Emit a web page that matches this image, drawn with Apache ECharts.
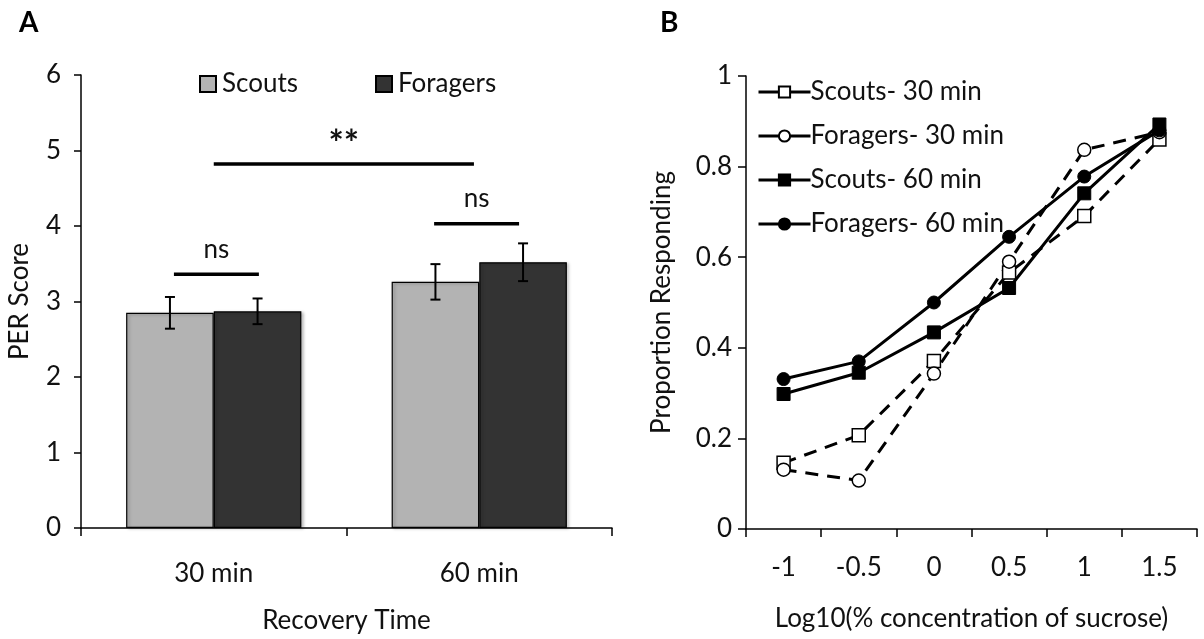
<!DOCTYPE html>
<html>
<head>
<meta charset="utf-8">
<script src="https://cdn.jsdelivr.net/npm/echarts@6/dist/echarts.min.js"></script>
<style>
  html, body { margin: 0; padding: 0; background: #fff; }
  #chart { width: 1204px; height: 639px; }
</style>
</head>
<body>
<div id="chart"></div>
<script>
// ---- Panel A: PER score by recovery time ----
const recoveryTimes = ['30 min', '60 min'];
const scoutsPER = [2.85, 3.26];
const foragersPER = [2.87, 3.52];
const scoutsSE = [0.21, 0.235];
const foragersSE = [0.17, 0.25];
// significance brackets: [from, to, height, label] in category units
const sigBrackets = [
  [-0.15, 0.17, 3.36, 'ns'],
  [0.83, 1.15, 4.03, 'ns'],
  [0.0, 0.98, 4.82, '**']
];

// ---- Panel B: proportion responding vs sucrose concentration ----
const logConc = ['-1', '-0.5', '0', '0.5', '1', '1.5'];
const scouts30 = [0.146, 0.207, 0.371, 0.566, 0.691, 0.86];
const foragers30 = [0.131, 0.107, 0.343, 0.59, 0.837, 0.876];
const scouts60 = [0.298, 0.345, 0.434, 0.532, 0.741, 0.893];
const foragers60 = [0.331, 0.37, 0.50, 0.645, 0.778, 0.88];

const FONT = 'Lato, "Open Sans", sans-serif';
const FS = 26;
const BAR_FRAC = 0.33;
const txt = { fontFamily: FONT, fontSize: FS, color: '#111' };

const chart = echarts.init(document.getElementById('chart'));

function errorItem(offsetFrac) {
  return function (params, api) {
    const x = api.value(0) + offsetFrac;
    const lo = api.coord([x, api.value(1)]);
    const hi = api.coord([x, api.value(2)]);
    const cap = 5;
    const style = { stroke: '#000', lineWidth: 2 };
    return {
      type: 'group',
      children: [
        { type: 'line', shape: { x1: lo[0], y1: lo[1], x2: hi[0], y2: hi[1] }, style },
        { type: 'line', shape: { x1: lo[0] - cap, y1: lo[1], x2: lo[0] + cap, y2: lo[1] }, style },
        { type: 'line', shape: { x1: hi[0] - cap, y1: hi[1], x2: hi[0] + cap, y2: hi[1] }, style }
      ]
    };
  };
}

const dashed = { width: 3, type: [13, 9], color: '#000' };
const solid = { width: 3, type: 'solid', color: '#000' };
const openMark = { color: '#fff', borderColor: '#000', borderWidth: 1.5 };
const fillMark = { color: '#000', borderColor: '#000', borderWidth: 1 };
const axisBlack = { color: '#000', width: 1.5 };
const titleStyle = { fontFamily: FONT, fontSize: 28, fontWeight: 'bold', color: '#000' };

chart.setOption({
  animation: false,
  backgroundColor: '#fff',
  textStyle: { fontFamily: FONT },
  title: [
    { text: 'A', left: 14, top: 4, textStyle: titleStyle },
    { text: 'B', left: 655, top: 4, textStyle: titleStyle }
  ],
  legend: [
    {
      data: ['Scouts'], left: 194, top: 66, icon: 'rect', itemWidth: 16, itemHeight: 16,
      textStyle: Object.assign({}, txt, { padding: [0, 0, 0, 1] })
    },
    {
      data: ['Foragers'], left: 370, top: 66, icon: 'rect', itemWidth: 16, itemHeight: 16,
      textStyle: Object.assign({}, txt, { padding: [0, 0, 0, 1] })
    },
    {
      data: ['Scouts- 30 min', 'Foragers- 30 min', 'Scouts- 60 min', 'Foragers- 60 min'],
      orient: 'vertical', left: 752, top: 74, itemGap: 18, itemWidth: 52, itemHeight: 14,
      lineStyle: { width: 3, type: 'solid' },
      textStyle: Object.assign({}, txt, { padding: [0, 0, 0, -5] })
    }
  ],
  grid: [
    { left: 81, top: 75, width: 531, height: 456 },
    { left: 746, top: 76, width: 451, height: 453 }
  ],
  xAxis: [
    {
      type: 'category', gridIndex: 0, data: recoveryTimes,
      name: 'Recovery Time', nameLocation: 'middle', nameGap: 80, nameTextStyle: txt,
      axisLine: { lineStyle: axisBlack },
      axisTick: { show: true, length: 8, lineStyle: axisBlack },
      axisLabel: Object.assign({ margin: 33 }, txt)
    },
    {
      type: 'category', gridIndex: 1, data: logConc,
      name: 'Log10(% concentration of sucrose)', nameLocation: 'middle', nameGap: 77, nameTextStyle: txt,
      axisLine: { lineStyle: axisBlack },
      axisTick: { show: true, length: 8, lineStyle: axisBlack },
      axisLabel: Object.assign({ margin: 26 }, txt)
    },
    {
      type: 'value', gridIndex: 0, min: -0.5, max: 1.5, show: false
    }
  ],
  yAxis: [
    {
      type: 'value', gridIndex: 0, min: 0, max: 6, interval: 1,
      name: 'PER Score', nameLocation: 'middle', nameGap: 48, nameTextStyle: txt,
      axisLine: { show: true, onZero: false, lineStyle: axisBlack },
      axisTick: { show: true, length: 7, lineStyle: axisBlack },
      axisLabel: Object.assign({ margin: 20 }, txt),
      splitLine: { show: false }
    },
    {
      type: 'value', gridIndex: 1, min: 0, max: 1, interval: 0.2,
      name: 'Proportion Responding', nameLocation: 'middle', nameGap: 71, nameTextStyle: txt,
      axisLine: { show: true, onZero: false, lineStyle: axisBlack },
      axisTick: { show: true, length: 8, lineStyle: axisBlack },
      axisLabel: Object.assign({ margin: 14 }, txt),
      splitLine: { show: false }
    }
  ],
  series: [
    {
      name: 'Scouts', type: 'bar', xAxisIndex: 0, yAxisIndex: 0, data: scoutsPER,
      barWidth: (BAR_FRAC * 100) + '%', barGap: '0%',
      itemStyle: { color: '#b3b3b3', borderColor: '#000', borderWidth: 1.2,
        shadowColor: 'rgba(0,0,0,0.25)', shadowBlur: 3, shadowOffsetX: 2, shadowOffsetY: 1 }
    },
    {
      name: 'Foragers', type: 'bar', xAxisIndex: 0, yAxisIndex: 0, data: foragersPER,
      barWidth: (BAR_FRAC * 100) + '%', barGap: '0%',
      itemStyle: { color: '#333333', borderColor: '#000', borderWidth: 1.2,
        shadowColor: 'rgba(0,0,0,0.25)', shadowBlur: 3, shadowOffsetX: 2, shadowOffsetY: 1 }
    },
    {
      type: 'custom', xAxisIndex: 2, yAxisIndex: 0, z: 5,
      renderItem: errorItem(-BAR_FRAC / 2),
      data: scoutsPER.map((v, i) => [i, v - scoutsSE[i], v + scoutsSE[i]])
    },
    {
      type: 'custom', xAxisIndex: 2, yAxisIndex: 0, z: 5,
      renderItem: errorItem(BAR_FRAC / 2),
      data: foragersPER.map((v, i) => [i, v - foragersSE[i], v + foragersSE[i]])
    },
    {
      type: 'custom', xAxisIndex: 2, yAxisIndex: 0, z: 5,
      data: sigBrackets,
      renderItem: function (params, api) {
        const b = sigBrackets[params.dataIndex];
        const p0 = api.coord([b[0], b[2]]);
        const p1 = api.coord([b[1], b[2]]);
        const bold = b[3] === '**';
        return {
          type: 'group',
          children: [
            { type: 'line', shape: { x1: p0[0], y1: p0[1], x2: p1[0], y2: p1[1] },
              style: { stroke: '#000', lineWidth: 3.5 } },
            { type: 'text', x: (p0[0] + p1[0]) / 2, y: p0[1] - (bold ? 2 : 12),
              style: { text: b[3], fill: '#111', fontFamily: FONT,
                fontSize: bold ? 36 : FS, fontWeight: bold ? 'bold' : 'normal',
                align: 'center', verticalAlign: 'bottom' } }
          ]
        };
      }
    },
    {
      name: 'Scouts- 30 min', type: 'line', xAxisIndex: 1, yAxisIndex: 1, data: scouts30,
      symbol: 'rect', symbolSize: 13, lineStyle: dashed, itemStyle: openMark, z: 3
    },
    {
      name: 'Foragers- 30 min', type: 'line', xAxisIndex: 1, yAxisIndex: 1, data: foragers30,
      symbol: 'circle', symbolSize: 13, lineStyle: dashed, itemStyle: openMark, z: 3
    },
    {
      name: 'Scouts- 60 min', type: 'line', xAxisIndex: 1, yAxisIndex: 1, data: scouts60,
      symbol: 'rect', symbolSize: 13, lineStyle: solid, itemStyle: fillMark, z: 4
    },
    {
      name: 'Foragers- 60 min', type: 'line', xAxisIndex: 1, yAxisIndex: 1, data: foragers60,
      symbol: 'circle', symbolSize: 13, lineStyle: solid, itemStyle: fillMark, z: 4
    }
  ]
});
</script>
</body>
</html>
